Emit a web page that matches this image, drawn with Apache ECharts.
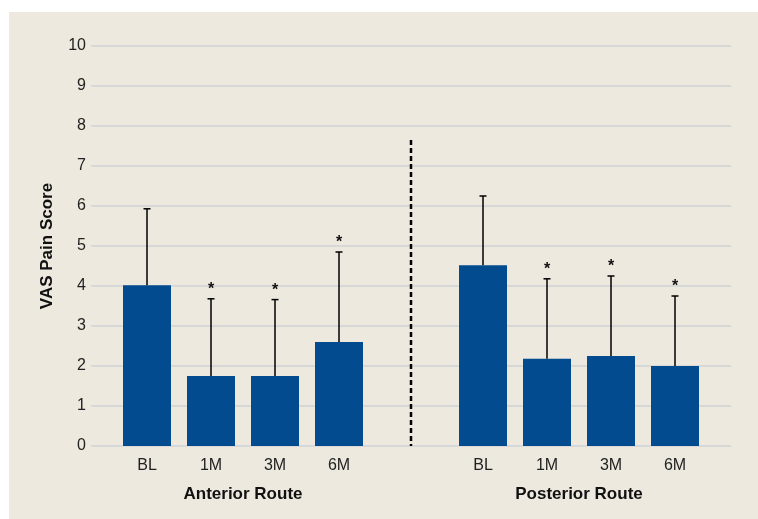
<!DOCTYPE html>
<html>
<head>
<meta charset="utf-8">
<script src="https://cdn.jsdelivr.net/npm/echarts@6/dist/echarts.min.js"></script>
<style>
  html, body { margin: 0; padding: 0; background: #ffffff; }
  #chart { position: absolute; left: 9px; top: 12px; width: 749px; height: 507px; background: #ede9df; }
</style>
</head>
<body>
<div id="chart"></div>
<script>
// --- data ---
const categories = ['BL', '1M', '3M', '6M'];
const groupNames = ['Anterior Route', 'Posterior Route'];
const anteriorMean = [4.02, 1.75, 1.75, 2.6];
const anteriorUpper = [5.93, 3.68, 3.66, 4.85];
const posteriorMean = [4.52, 2.18, 2.25, 2.0];
const posteriorUpper = [6.25, 4.18, 4.25, 3.75];
const significant = [false, true, true, true];
const yTicks = [0, 1, 2, 3, 4, 5, 6, 7, 8, 9, 10];
const separatorTop = 7.65;

const COLORS = {
  bar: '#024b8e',
  grid: '#d2d2d6',
  text: '#222222',
  err: '#000000'
};
const FONT = '"Liberation Sans", Arial, sans-serif';

const chart = echarts.init(document.getElementById('chart'));

// error bar (upper only) + significance star
function errorRender(params, api) {
  const base = api.coord([api.value(0), api.value(1)]);
  const top = api.coord([api.value(0), api.value(2)]);
  const children = [
    { type: 'line', shape: { x1: base[0], y1: base[1], x2: top[0], y2: top[1] },
      style: { stroke: COLORS.err, lineWidth: 1.5 } },
    { type: 'line', shape: { x1: top[0] - 3.5, y1: top[1], x2: top[0] + 3.5, y2: top[1] },
      style: { stroke: COLORS.err, lineWidth: 1.5 } }
  ];
  if (api.value(3)) {
    children.push({ type: 'text', x: top[0], y: top[1] - 9,
      style: { text: '*', fill: '#111', font: 'bold 16px ' + FONT, align: 'center', verticalAlign: 'middle' } });
  }
  return { type: 'group', children: children };
}

function errData(mean, upper) {
  return categories.map((c, i) => [i, mean[i], upper[i], significant[i] ? 1 : 0]);
}

const groupAxis = (idx, name) => ({
  type: 'category',
  gridIndex: idx,
  data: categories,
  axisLine: { show: false },
  axisTick: { show: false },
  axisLabel: { color: COLORS.text, fontSize: 16, fontFamily: FONT, margin: 12 },
  name: name,
  nameLocation: 'middle',
  nameGap: 40,
  nameTextStyle: { color: '#111', fontSize: 17, fontWeight: 'bold', fontFamily: FONT }
});

const hiddenY = (idx) => ({
  type: 'value', gridIndex: idx, min: 0, max: 10, interval: 1,
  axisLine: { show: false }, axisTick: { show: false }, axisLabel: { show: false }, splitLine: { show: false }
});

const option = {
  animation: false,
  backgroundColor: 'transparent',
  grid: [
    { left: 82, right: 27, top: 34, bottom: 73 },
    { left: 106, width: 256, top: 34, bottom: 73 },
    { left: 442, width: 256, top: 34, bottom: 73 }
  ],
  xAxis: [
    { type: 'value', gridIndex: 0, show: false, min: 0, max: 1 },
    groupAxis(1, groupNames[0]),
    groupAxis(2, groupNames[1])
  ],
  yAxis: [
    {
      type: 'value', gridIndex: 0,
      min: yTicks[0], max: yTicks[yTicks.length - 1], interval: 1,
      axisLine: { show: false },
      axisTick: { show: false },
      axisLabel: { color: COLORS.text, fontSize: 16, fontFamily: FONT, margin: 5 },
      splitLine: { show: true, lineStyle: { color: COLORS.grid, width: 1.5 } },
      name: 'VAS Pain Score',
      nameLocation: 'middle',
      nameGap: 35,
      nameTextStyle: { color: '#111', fontSize: 17, fontWeight: 'bold', fontFamily: FONT }
    },
    hiddenY(1),
    hiddenY(2)
  ],
  series: [
    { type: 'bar', xAxisIndex: 1, yAxisIndex: 1, data: anteriorMean, barWidth: 48,
      itemStyle: { color: COLORS.bar } },
    { type: 'bar', xAxisIndex: 2, yAxisIndex: 2, data: posteriorMean, barWidth: 48,
      itemStyle: { color: COLORS.bar } },
    { type: 'custom', xAxisIndex: 1, yAxisIndex: 1, renderItem: errorRender,
      data: errData(anteriorMean, anteriorUpper), z: 5 },
    { type: 'custom', xAxisIndex: 2, yAxisIndex: 2, renderItem: errorRender,
      data: errData(posteriorMean, posteriorUpper), z: 5 }
  ]
};

chart.setOption(option);

// dashed separator between the two groups
const sepX = (chart.convertToPixel({ gridIndex: 1 }, [3, 0])[0] + chart.convertToPixel({ gridIndex: 2 }, [0, 0])[0]) / 2;
const sepTop = chart.convertToPixel({ yAxisIndex: 0 }, separatorTop);
const sepBottom = chart.convertToPixel({ yAxisIndex: 0 }, 0);
chart.setOption({
  graphic: [{
    type: 'line', z: 10,
    shape: { x1: sepX, y1: sepTop, x2: sepX, y2: sepBottom },
    style: { stroke: '#000', lineWidth: 2.5, lineDash: [5, 3] }
  }]
});

window.addEventListener('resize', () => chart.resize());
</script>
</body>
</html>
